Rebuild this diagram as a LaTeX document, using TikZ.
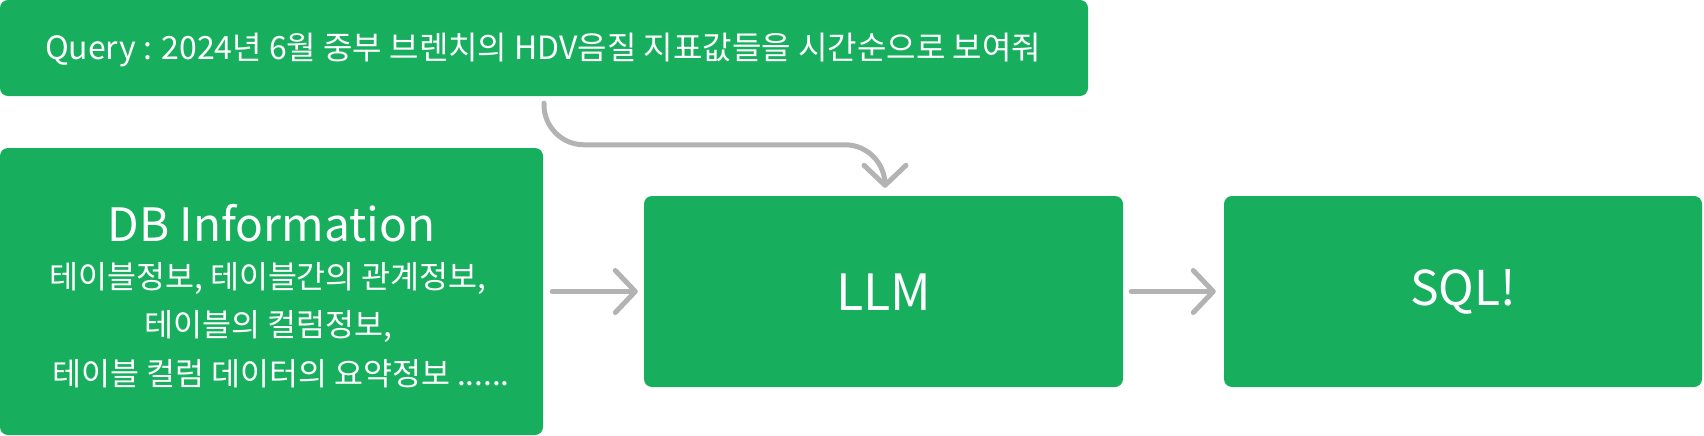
\documentclass[tikz,border=0pt]{standalone}
\usepackage{fontspec}
\setmainfont{Noto Sans CJK KR}
\usetikzlibrary{arrows.meta}
\definecolor{boxgreen}{RGB}{23,175,94}
\definecolor{conngray}{RGB}{179,179,179}
\tikzset{
  gbox/.style={draw=none, fill=boxgreen, rounded corners=8pt, inner sep=0pt, minimum width=#1},
  txt/.style={text=white, inner sep=0pt, anchor=center},
  conn/.style={draw=conngray, line width=5pt, line cap=round, line join=round,
    -{Straight Barb[length=20pt,width=42pt,round]}}
}
\begin{document}
\begin{tikzpicture}[x=1pt,y=-1pt]
\useasboundingbox (0,0) rectangle (1704,436);
% boxes
\node[gbox=1088pt, minimum height=96pt] (q) at (544,48) {};
\node[gbox=543pt, minimum height=287pt] (db) at (271.5,291.5) {};
\node[gbox=479pt, minimum height=191pt] (llm) at (883.5,291.5) {};
\node[gbox=478pt, minimum height=191pt] (sql) at (1463,291.5) {};
% texts
\node[txt, font=\fontsize{32}{38}\selectfont] (qt) at (543,50) {Query : 2024년 6월 중부 브렌치의 HDV음질 지표값들을 시간순으로 보여줘};
\node[txt, font=\fontsize{46}{52}\selectfont] (dbt) at (271.5,223) {DB Information};
\node[txt, font=\fontsize{31.5}{36}\selectfont] (l1) at (268,278) {테이블정보, 테이블간의 관계정보,};
\node[txt, font=\fontsize{31.5}{36}\selectfont] (l2) at (268,326) {테이블의 컬럼정보,};
\node[txt, font=\fontsize{31.5}{36}\selectfont] (l3) at (281,374) {테이블 컬럼 데이터의 요약정보 ......};
\node[txt, font=\fontsize{50}{56}\selectfont] (llmt) at (883.5,292) {LLM};
\node[txt, font=\fontsize{48}{54}\selectfont] (sqlt) at (1463,292) {SQL!};
% connectors
\draw[conn] ([xshift=9pt]db.east) -- ([xshift=-6pt]llm.west);
\draw[conn] ([xshift=8pt]llm.east) -- ([xshift=-8pt]sql.west);
\draw[conn, rounded corners=40pt] ([yshift=-7pt]q.south) |- ([xshift=1.5pt,yshift=51pt]llm.north) -- ([xshift=1.5pt,yshift=8pt]llm.north);
\end{tikzpicture}
\end{document}
